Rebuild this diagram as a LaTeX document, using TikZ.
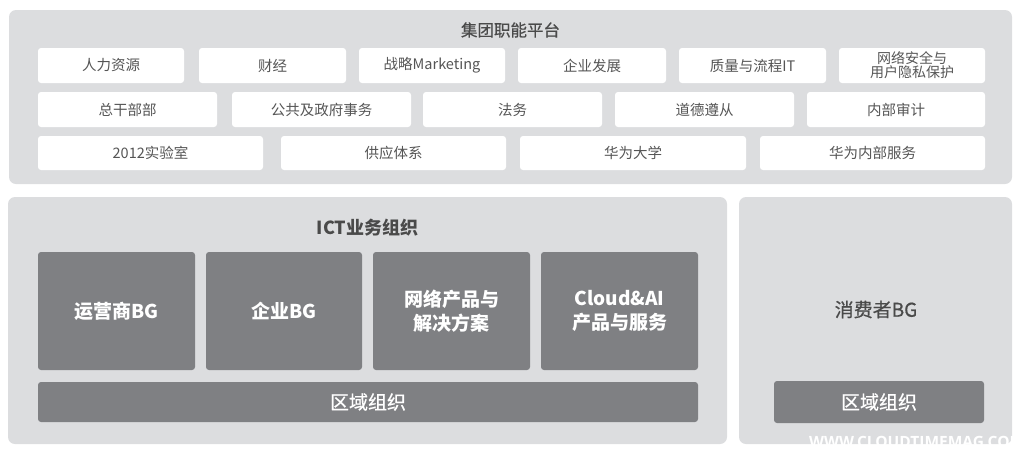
\documentclass[tikz,border=0pt]{standalone}
\usepackage{fontspec}
\setmainfont{Noto Sans CJK SC}
\newfontfamily\medfont[FakeBold=0.7]{Noto Sans CJK SC}
\newfontfamily\wmfont{Open Sans}
\definecolor{panelgray}{HTML}{DCDDDF}
\definecolor{darkbox}{HTML}{7F8083}
\definecolor{txtgray}{HTML}{555555}
\definecolor{titlegray}{HTML}{4A4A4A}
\newcommand\cellbox[7]{\node[#6, minimum width={#4-#2}, minimum height={#5-#3}] (#1) at ({(#2+#4)/2},{(#3+#5)/2}) {#7};}
\begin{document}
\begin{tikzpicture}[x=1pt,y=-1pt,
  panel/.style={fill=panelgray, draw=none, rounded corners=7pt, inner sep=0pt, outer sep=0pt},
  wbox/.style={fill=white, draw=none, rounded corners=3pt, inner sep=0pt, outer sep=0pt, align=center, text=txtgray, font=\fontsize{14.5}{15}\selectfont},
  dbox/.style={fill=darkbox, draw=none, rounded corners=3pt, inner sep=0pt, outer sep=0pt, align=center, text=white, font=\fontsize{19}{24}\selectfont\bfseries},
  rbox/.style={fill=darkbox, draw=none, rounded corners=3pt, inner sep=0pt, outer sep=0pt, align=center, text=white, font=\medfont\fontsize{19}{24}\selectfont},
  ttl/.style={text=titlegray, inner sep=0pt},
]
\useasboundingbox (0,0) rectangle (1028,459);

% panels
\cellbox{top}{9}{10}{1012}{184}{panel}{}
\cellbox{ict}{8}{197}{727}{444}{panel}{}
\cellbox{cons}{739}{197}{1012}{444}{panel}{}

% titles
\node[ttl, font=\medfont\fontsize{16.5}{18}\selectfont] (ttop) at (510.5,30) {集团职能平台};
\node[ttl, font=\fontsize{18}{20}\selectfont\bfseries] (tict) at (367.5,227.5) {ICT业务组织};
\node[ttl, font=\medfont\fontsize{19}{22}\selectfont] (tcons) at (876,309.5) {消费者BG};

% row 1
\cellbox{a1}{38}{48}{184}{83}{wbox}{人力资源}
\cellbox{a2}{199}{48}{346}{83}{wbox}{财经}
\cellbox{a3}{359}{48}{505}{83}{wbox}{战略Marketing}
\cellbox{a4}{518}{48}{666}{83}{wbox}{企业发展}
\cellbox{a5}{679}{48}{826}{83}{wbox}{质量与流程IT}
\cellbox{a6}{839}{48}{985}{83}{wbox, font=\fontsize{14}{14}\selectfont}{网络安全与\\用户隐私保护}

% row 2
\cellbox{b1}{38}{92}{217}{127}{wbox}{总干部部}
\cellbox{b2}{232}{92}{411}{127}{wbox}{公共及政府事务}
\cellbox{b3}{423}{92}{602}{127}{wbox}{法务}
\cellbox{b4}{615}{92}{794}{127}{wbox}{道德遵从}
\cellbox{b5}{807}{92}{985}{127}{wbox}{内部审计}

% row 3
\cellbox{c1}{38}{136}{263}{170}{wbox}{2012实验室}
\cellbox{c2}{281}{136}{506}{170}{wbox}{供应体系}
\cellbox{c3}{520}{136}{746}{170}{wbox}{华为大学}
\cellbox{c4}{760}{136}{985}{170}{wbox}{华为内部服务}

% ICT boxes
\cellbox{d1}{38}{252}{195}{370}{dbox}{运营商BG}
\cellbox{d2}{206}{252}{362}{370}{dbox}{企业BG}
\cellbox{d3}{373}{252}{530}{370}{dbox}{网络产品与\\解决方案}
\cellbox{d4}{541}{252}{698}{370}{dbox}{Cloud\&AI\\产品与服务}
\cellbox{r1}{38}{382}{698}{422}{rbox}{区域组织}

% consumer region
\cellbox{r2}{774}{381}{984}{423}{rbox}{区域组织}

% watermark
\node[text=white, inner sep=0pt, anchor=base west, font=\wmfont\bfseries\fontsize{15.5}{16}\selectfont] (wm) at (809,447) {WWW.CLOUDTIMEMAG.COM};
\end{tikzpicture}
\end{document}
